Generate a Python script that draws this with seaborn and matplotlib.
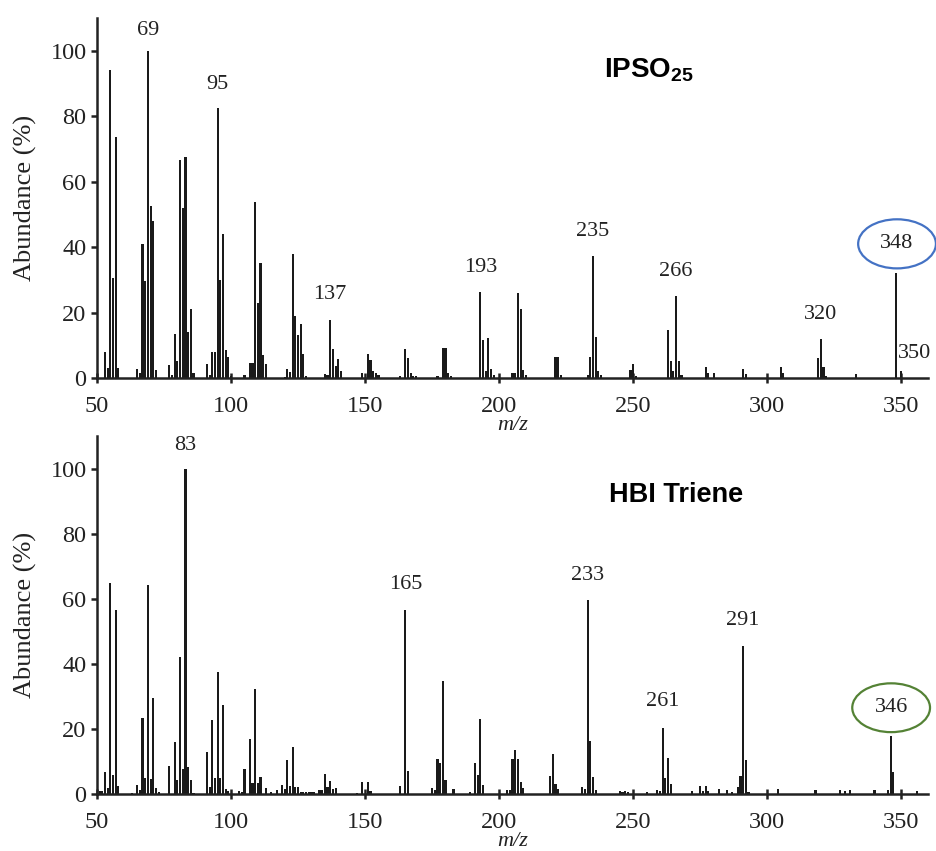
import matplotlib
matplotlib.use("Agg")
import matplotlib.pyplot as plt
from matplotlib.patches import Ellipse
import seaborn as sns
import pandas as pd

# ---- IPSO25 spectrum (m/z, abundance %) ----
ipso_mz = [53, 54, 55, 56, 57, 58, 65, 66, 67, 68, 69, 70, 71, 72,
           77, 78, 79, 80, 81, 82, 83, 84, 85, 86,
           91, 92, 93, 94, 95, 96, 97, 98, 99, 100,
           105, 107, 108, 109, 110, 111, 112, 113,
           120, 121, 122, 123, 124, 125, 126, 127, 128,
           135, 136, 137, 138, 139, 140, 141,
           149, 151, 152, 153, 154, 155,
           163, 165, 166, 167, 168, 169,
           177, 179, 180, 181, 182,
           193, 194, 195, 196, 197, 198,
           205, 206, 207, 208, 209, 210,
           221, 222, 223,
           233, 234, 235, 236, 237, 238,
           249, 250, 251,
           263, 264, 265, 266, 267, 268,
           277, 278, 280,
           291, 292,
           305, 306,
           319, 320, 321, 322,
           333, 348, 350]
ipso_ab = [8, 3, 94, 30.5, 73.5, 3, 2.8, 1.5, 41, 29.5, 100, 52.5, 48, 2.5,
           4, 1, 13.5, 5.3, 66.5, 52, 67.5, 14, 21, 1.5,
           4.3, 1, 8, 8, 82.5, 30, 44, 8.5, 6.5, 0.5,
           1, 4.7, 4.7, 53.7, 23, 35, 7, 4.3,
           0.4, 2.8, 1.7, 38, 19, 13, 16.5, 7.4, 0.5,
           1.2, 0.8, 17.8, 9, 3.8, 5.7, 2,
           1.5, 7.3, 5.5, 2, 1.5, 0.8,
           0.5, 8.8, 6, 1.4, 0.5, 0.5,
           0.5, 9.3, 9.3, 1.5, 0.5,
           26.3, 11.5, 2, 12.2, 2.8, 0.8,
           1.4, 1.5, 26, 21, 2.5, 1,
           6.4, 6.4, 1,
           1, 6.4, 37.3, 12.4, 2, 0.8,
           2.5, 4.3, 0.5,
           14.6, 5.3, 2, 25.2, 5.2, 0.8,
           3.3, 1.4, 1.4,
           2.9, 1.2,
           3.3, 1.5,
           6.2, 11.9, 3.3, 0.5,
           1.2, 32, 2.1]

# ---- HBI Triene spectrum ----
hbi_mz = [51, 52, 53, 54, 55, 56, 57, 58, 63, 65, 66, 67, 68, 69, 70, 71, 72, 73,
          77, 79, 80, 81, 82, 83, 84, 85, 86,
          91, 92, 93, 94, 95, 96, 97, 98, 99,
          103, 104, 105, 107, 108, 109, 110, 111, 113,
          115, 117, 119, 120, 121, 122, 123, 124, 125, 126, 127, 128, 129, 130, 131,
          133, 134, 135, 136, 137, 138, 139,
          147, 149, 151, 152,
          163, 165, 166,
          175, 176, 177, 178, 179, 180, 183,
          189, 191, 192, 193, 194,
          203, 204, 205, 206, 207, 208, 209,
          219, 220, 221, 222,
          231, 232, 233, 234, 235, 236,
          245, 246, 247, 248, 255,
          259, 260, 261, 262, 263, 264,
          272, 275, 276, 277, 278, 282, 285, 287,
          289, 290, 291, 292, 293,
          304, 318, 327, 329, 331, 340, 345, 346, 347, 356]
hbi_ab = [1, 1, 6.7, 1.7, 64.8, 5.8, 56.6, 2.6, 0.3, 2.9, 1.2, 23.3, 4.8, 64.3, 4.6, 29.4, 1.9, 0.5,
          8.6, 16.1, 4.3, 42, 7.6, 100, 8.3, 4.4, 0.3,
          12.8, 2, 22.8, 5, 37.4, 4.9, 27.4, 1.4, 0.9,
          1, 0.7, 7.6, 16.8, 3.4, 32.2, 3.4, 5.3, 1.9,
          0.5, 1.3, 2.8, 1.6, 10.5, 2.4, 14.4, 2, 2, 0.5, 0.6, 0.5, 0.6, 0.5, 0.5,
          1.3, 1.3, 6.2, 2, 3.9, 1.5, 1.9,
          0.3, 3.8, 3.6, 1,
          2.3, 56.4, 7.2,
          1.7, 1.3, 10.7, 9.4, 34.8, 4.4, 1.5,
          0.5, 9.6, 5.8, 23.1, 2.8,
          1.3, 1.3, 10.8, 13.5, 10.8, 3.8, 1.8,
          5.5, 12.2, 3.1, 1.5,
          2, 1.5, 59.7, 16.3, 5.3, 1.1,
          1, 0.5, 1, 0.5, 0.5,
          1.3, 1, 20.2, 4.8, 11.1, 3.1,
          1, 2.3, 1, 2.3, 0.8, 1.5, 1.1, 0.5,
          2, 5.6, 45.5, 10.5, 0.5,
          1.6, 1.1, 1.1, 0.8, 1.1, 1.3, 1.3, 17.8, 6.7, 1]

ipso_labels = ["69", "95", "137", "193", "235", "266", "320", "350"]
ipso_label_pos = [(69, 103.2), (95, 86.8), (137, 22.5), (193, 31), (235, 42), (266, 29.6), (320, 16.5), (355, 4.5)]
hbi_labels = ["83", "165", "233", "261", "291"]
hbi_label_pos = [(83, 104.2), (165, 61.3), (233, 64.3), (261, 25.5), (291, 50.3)]

yticks = [0, 20, 40, 60, 80, 100]
xticks = [50, 100, 150, 200, 250, 300, 350]

sns.set_theme(style="ticks")
plt.rcParams['font.family'] = ['Liberation Serif', 'DejaVu Serif']
plt.rcParams['mathtext.fontset'] = 'custom'
plt.rcParams['mathtext.bf'] = 'Liberation Sans:bold'
plt.rcParams['mathtext.rm'] = 'Liberation Sans:bold'

fig = plt.figure(figsize=(9.36, 8.51), dpi=100)
ax1 = fig.add_axes([0.1036, 0.5558, 0.888, 0.423])
ax2 = fig.add_axes([0.1036, 0.067, 0.888, 0.4207])

bar_color = "#1a1a1a"
txt_color = "#222222"


def draw(ax, mz, ab, labels, label_pos, title, title_xy, title_size, circ_label, ell_color, ell_center):
    df = pd.DataFrame({"mz": mz, "ab": ab})
    sns.barplot(data=df, x="mz", y="ab", native_scale=True, width=0.8,
                color=bar_color, saturation=1, errorbar=None, linewidth=0, ax=ax)
    ax.set_xlim(50, 360)
    ax.set_ylim(0, 110)
    ax.set_xticks(xticks)
    ax.set_yticks(yticks)
    ax.tick_params(axis="x", direction="inout", length=7.5, width=1.8, labelsize=17.5, pad=9.5, colors=txt_color)
    ax.tick_params(axis="y", direction="out", length=4.5, width=1.8, labelsize=17.5, pad=3, colors=txt_color)
    for s in ["top", "right"]:
        ax.spines[s].set_visible(False)
    for s in ["left", "bottom"]:
        ax.spines[s].set_linewidth(1.8)
        ax.spines[s].set_color(txt_color)
    ax.set_ylabel("Abundance (%)", fontsize=19, color=txt_color, labelpad=10)
    ax.set_xlabel("m/z", fontsize=16, style="italic", color=txt_color, labelpad=-1)
    for t, (x, y) in zip(labels, label_pos):
        ax.text(x, y, t, ha="center", va="bottom", fontsize=16, color=txt_color)
    ax.text(title_xy[0], title_xy[1], title, ha="center", va="center", fontsize=title_size,
            fontweight="bold", family=["Liberation Sans", "DejaVu Sans"], color="black")
    ax.text(ell_center[0], ell_center[1], circ_label, ha="center", va="center",
            fontsize=16, color=txt_color)
    e = Ellipse(ell_center, 29, 15, fill=False, edgecolor=ell_color, linewidth=1.6, clip_on=False)
    ax.add_patch(e)


draw(ax1, ipso_mz, ipso_ab, ipso_labels, ipso_label_pos, r"IPSO$_{\mathbf{25}}$",
     (256, 94), 20, "348", "#4472C4", (348.4, 41))
draw(ax2, hbi_mz, hbi_ab, hbi_labels, hbi_label_pos, "HBI Triene",
     (266, 92), 19.5, "346", "#548235", (346.2, 26.5))

fig.savefig("out.png", dpi=100)
